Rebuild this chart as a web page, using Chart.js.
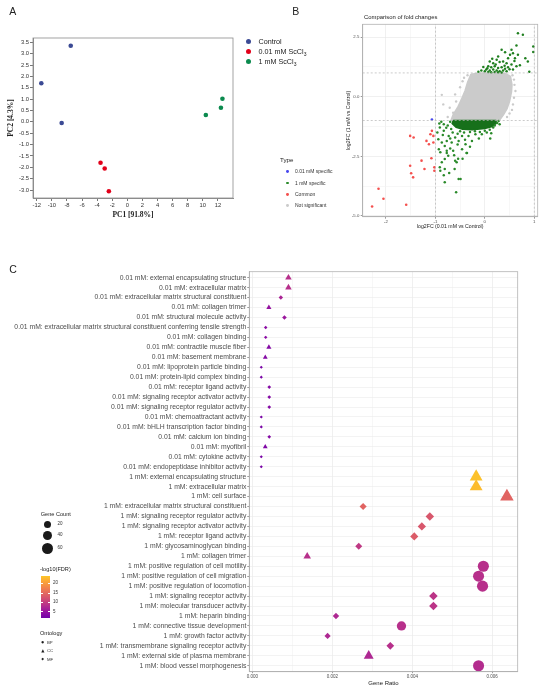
<!DOCTYPE html>
<html>
<head>
<meta charset="utf-8">
<script src="https://cdn.jsdelivr.net/npm/chart.js@4.4.0/dist/chart.umd.min.js"></script>
<style>
body { margin: 0; background: #fff; font-family: "Liberation Sans", Arial, sans-serif; }
#page { position: relative; width: 550px; height: 691px; overflow: hidden; background: #fff; }
canvas, .t, .dot, .bar { position: absolute; }
.t { white-space: nowrap; line-height: 1; color: #222; }
.dot { border-radius: 50%; }
</style>
</head>
<body>
<div id="page">
  <canvas id="pca" width="240" height="230" style="left:0;top:0;width:240px;height:230px"></canvas>
  <canvas id="fc" width="310" height="230" style="left:240px;top:0;width:310px;height:230px"></canvas>
  <canvas id="go" width="550" height="441" style="left:0;top:250px;width:550px;height:441px"></canvas>
</div>
<script>
// ---- panel A: PCA ----
const pcaControlX = [-7.5, -11.4, -8.7];
const pcaControlY = [3.35, 1.70, -0.05];
const pcaLowX = [-3.55, -3.0, -2.45];
const pcaLowY = [-1.80, -2.05, -3.05];
const pcaHighX = [10.4, 12.4, 12.6];
const pcaHighY = [0.30, 0.62, 1.02];
const pcaXTicks = [-12, -10, -8, -6, -4, -2, 0, 2, 4, 6, 8, 10, 12];
const pcaYTicks = [-3, -2.5, -2, -1.5, -1, -0.5, 0, 0.5, 1, 1.5, 2, 2.5, 3, 3.5];

// ---- panel B: fold change comparison ----
const fcXMajor = [-2, -1, 0, 1];
const fcXMinor = [-1.5, -0.5, 0.5];
const fcYMajor = [-5, -2.5, 0, 2.5];
const fcYMinor = [-3.75, -1.25, 1.25];
const fcCutoffs = [-1, 1];
// dense core of the not-significant cloud (outline)
const notSigCore = [[-0.28,0.95],[-0.1,1.0],[0.2,1.0],[0.42,0.98],[0.52,0.85],[0.55,0.5],[0.54,0.2],[0.5,-0.2],
  [0.45,-0.5],[0.38,-0.75],[0.3,-0.97],[0.0,-1.0],[-0.4,-1.0],[-0.68,-0.97],[-0.64,-0.75],[-0.55,-0.45],
  [-0.47,-0.1],[-0.4,0.25],[-0.35,0.6],[-0.3,0.85],[-0.28,0.95]];
const notSigPoints = [[-0.87,0.08],[-0.84,-0.32],[-0.71,-0.46],[-0.64,-0.67],[0.59,0.72],[0.62,0.24],[0.59,-0.04],
  [0.57,-0.32],[-0.5,0.4],[-0.45,0.65],[-0.35,0.9],[0.6,0.5],[0.55,-0.55],[-0.75,-0.85],[-0.6,0.1],[0.56,0.9],
  [-0.58,-0.2],[0.5,-0.7],[-0.42,0.8],[0.45,-0.85]];
// dense core of the 1 mM specific band just below -1
const highBandCore = [[-0.64,-1.0],[0.22,-1.0],[0.24,-1.1],[0.15,-1.25],[0.0,-1.33],[-0.25,-1.38],[-0.45,-1.36],
  [-0.58,-1.28],[-0.66,-1.12],[-0.64,-1.0]];
const highUp = [[0.67,2.66],[0.77,2.60],[0.64,2.15],[0.98,2.11],[0.98,1.88],[0.87,1.48],[0.34,1.97],[0.41,1.87],
  [0.51,1.76],[0.57,1.83],[0.61,1.62],[0.47,1.62],[0.27,1.69],[0.24,1.55],[0.30,1.46],[0.37,1.48],[0.44,1.41],
  [0.54,1.35],[0.64,1.28],[0.71,1.32],[0.10,1.48],[0.17,1.41],[0.07,1.28],[0.13,1.24],[0.20,1.28],[0.27,1.21],
  [0.34,1.24],[0.41,1.18],[0.47,1.24],[0.57,1.14],[0.03,1.14],[0.10,1.10],[0.17,1.14],[0.24,1.10],[0.30,1.07],
  [0.37,1.10],[0.44,1.07],[0.00,1.07],[0.20,1.04],[0.27,1.03],[0.34,1.02],[0.13,1.03],[0.07,1.04],[-0.07,1.10],
  [-0.13,1.05],[0.54,1.97],[0.67,1.76],[0.82,1.62],[0.60,1.50],[0.50,1.15],[0.22,1.35],[0.05,1.20],[-0.03,1.25],
  [0.15,1.60],[0.40,1.30],[0.90,1.05]];
const highDown = [[-0.87,-1.92],[-0.81,-2.06],[-0.90,-2.33],[-0.87,-2.75],[-0.90,-3.10],[-0.81,-3.03],[-0.72,-3.20],
  [-0.81,-3.58],[-0.60,-2.68],[-0.57,-2.75],[-0.61,-3.03],[-0.53,-3.45],[-0.49,-3.45],[-0.58,-4.00],[-0.36,-2.36],
  [-0.70,-2.17],[-0.64,-2.26],[-0.77,-2.26],[-0.93,-2.20],[-0.94,-1.78],[-0.74,-2.47],[-0.81,-2.61],[-0.46,-2.20],
  [-0.39,-1.99],[-0.26,-1.85],[-0.12,-1.75],[0.11,-1.75],[-0.67,-1.92],[-0.53,-1.85],[-0.96,-1.50],[-0.91,-1.29],
  [-0.83,-1.43],[-0.73,-1.64],[-0.77,-1.85],[-0.60,-1.71],[-0.46,-1.64],[-0.33,-1.64],[-0.19,-1.57],[-0.06,-1.57],
  [0.04,-1.50],[0.17,-1.29],[-0.83,-1.15],[-0.70,-1.05],[-0.75,-1.20],[-0.68,-1.35],[-0.65,-1.50],[-0.55,-1.55],
  [-0.50,-1.45],[-0.42,-1.50],[-0.30,-1.48],[-0.20,-1.45],[-0.10,-1.48],[0.00,-1.42],[0.10,-1.38],[0.20,-1.20],
  [0.25,-1.10],[0.28,-1.02],[0.30,-1.15],[-0.88,-1.05],[-0.92,-1.12],[-0.78,-1.30],[-0.85,-1.60],[-0.70,-1.75],
  [-0.40,-1.80],[-0.55,-2.00],[-0.62,-2.45],[-0.45,-2.60],[-0.30,-2.10],[0.13,-1.53],[-0.77,-2.36],[-0.37,-2.36],
  [-0.54,-2.60],[-0.91,-2.96],[-0.83,-3.29]];
const commonSig = [[-1.51,-1.64],[-1.44,-1.71],[-1.07,-1.43],[-1.10,-1.57],[-1.04,-1.64],[-1.18,-1.85],[-1.13,-1.99],
  [-1.04,-1.92],[-1.28,-2.68],[-1.08,-2.58],[-1.51,-2.89],[-1.22,-3.03],[-1.02,-2.96],[-1.02,-3.10],[-1.49,-3.21],
  [-1.45,-3.38],[-2.15,-3.86],[-2.05,-4.28],[-2.28,-4.60],[-1.59,-4.53]];
const lowSpecific = [[-1.07,-0.95]];

// ---- panel C: GO enrichment ----
const goTerms = [
  "0.01 mM: external encapsulating structure",
  "0.01 mM: extracellular matrix",
  "0.01 mM: extracellular matrix structural constituent",
  "0.01 mM: collagen trimer",
  "0.01 mM: structural molecule activity",
  "0.01 mM: extracellular matrix structural constituent conferring tensile strength",
  "0.01 mM: collagen binding",
  "0.01 mM: contractile muscle fiber",
  "0.01 mM: basement membrane",
  "0.01 mM: lipoprotein particle binding",
  "0.01 mM: protein-lipid complex binding",
  "0.01 mM: receptor ligand activity",
  "0.01 mM: signaling receptor activator activity",
  "0.01 mM: signaling receptor regulator activity",
  "0.01 mM: chemoattractant activity",
  "0.01 mM: bHLH transcription factor binding",
  "0.01 mM: calcium ion binding",
  "0.01 mM: myofibril",
  "0.01 mM: cytokine activity",
  "0.01 mM: endopeptidase inhibitor activity",
  "1 mM: external encapsulating structure",
  "1 mM: extracellular matrix",
  "1 mM: cell surface",
  "1 mM: extracellular matrix structural constituent",
  "1 mM: signaling receptor regulator activity",
  "1 mM: signaling receptor activator activity",
  "1 mM: receptor ligand activity",
  "1 mM: glycosaminoglycan binding",
  "1 mM: collagen trimer",
  "1 mM: positive regulation of cell motility",
  "1 mM: positive regulation of cell migration",
  "1 mM: positive regulation of locomotion",
  "1 mM: signaling receptor activity",
  "1 mM: molecular transducer activity",
  "1 mM: heparin binding",
  "1 mM: connective tissue development",
  "1 mM: growth factor activity",
  "1 mM: transmembrane signaling receptor activity",
  "1 mM: external side of plasma membrane",
  "1 mM: blood vessel morphogenesis"
];
const geneRatio = [0.00090, 0.00090, 0.00071, 0.00041, 0.00080, 0.00033, 0.00033, 0.00041, 0.00032, 0.00022,
  0.00022, 0.00042, 0.00042, 0.00042, 0.00022, 0.00022, 0.00042, 0.00032, 0.00022, 0.00022,
  0.00560, 0.00560, 0.00637, 0.00277, 0.00444, 0.00424, 0.00405, 0.00266, 0.00137, 0.00578,
  0.00566, 0.00576, 0.00453, 0.00453, 0.00209, 0.00373, 0.00188, 0.00345, 0.00291, 0.00566];
const geneCount = [9, 9, 7, 4, 8, 3, 3, 4, 3, 2, 2, 4, 4, 4, 2, 2, 4, 3, 2, 2,
  56, 56, 64, 28, 44, 42, 40, 27, 14, 58, 57, 58, 45, 45, 21, 37, 19, 35, 29, 57];
const negLogFdr = [8.5, 8.5, 7, 5, 5.5, 4, 4, 3.5, 3.5, 2.5, 2.5, 3.5, 3.5, 3.5, 2.5, 2.5, 3.5, 3, 2.5, 2.5,
  23.5, 23, 14.5, 14.5, 13, 13, 13.5, 9.5, 8.5, 8.5, 8.5, 8.5, 9, 9, 7.5, 8.5, 7.5, 8.5, 7.5, 8];
const ontology = ['CC','CC','MF','CC','MF','MF','MF','CC','CC','MF','MF','MF','MF','MF','MF','MF','MF','CC','MF','MF',
  'CC','CC','CC','MF','MF','MF','MF','MF','CC','BP','BP','BP','MF','MF','MF','BP','MF','MF','CC','BP'];
const goXMajor = [0, 0.002, 0.004, 0.006];
const goXMinor = [0.001, 0.003, 0.005];
const countLegend = [20, 40, 60];
const fdrLegend = [5, 10, 15, 20];
const fdrLow = 1.7, fdrHigh = 23.9;

// ---------------------------------------------------------------
Chart.defaults.font.family = '"Liberation Sans", Arial, sans-serif';
Chart.defaults.animation = false;
Chart.defaults.plugins.legend.display = false;
Chart.defaults.plugins.tooltip.enabled = false;

// box round the plot area
const frame = {
  id: 'frame',
  afterDatasetsDraw(chart, args, opts) {
    const a = chart.chartArea, ctx = chart.ctx;
    ctx.save();
    ctx.strokeStyle = opts.color;
    ctx.lineWidth = opts.width;
    ctx.strokeRect(a.left, a.top, a.right - a.left, a.bottom - a.top);
    ctx.restore();
  }
};

function xy(xs, ys) { return xs.map((x, i) => ({x: x, y: ys[i]})); }
function pairs(list) { return list.map(p => ({x: p[0], y: p[1]})); }
function setTicks(list) { return s => { s.ticks = list.map(v => ({value: v})); }; }

// plasma-like palette used for -log10(FDR)
const plasma = [[0.2,'#6a00a8'],[0.3,'#8f0da4'],[0.4,'#b12a90'],[0.5,'#cc4778'],[0.6,'#e16462'],
  [0.7,'#f2844b'],[0.8,'#fca636'],[0.9,'#fcce25']];
function hexRgb(h) { return [1, 3, 5].map(i => parseInt(h.substr(i, 2), 16)); }
function fdrColor(v) {
  let t = Math.max(0, Math.min(1, (v - fdrLow) / (fdrHigh - fdrLow)));
  let p = 0.22 + 0.66 * t;
  for (let i = 0; i < plasma.length - 1; i++) {
    if (p <= plasma[i + 1][0]) {
      const f = (p - plasma[i][0]) / (plasma[i + 1][0] - plasma[i][0]);
      const a = hexRgb(plasma[i][1]), b = hexRgb(plasma[i + 1][1]);
      return 'rgb(' + a.map((c, k) => Math.round(c + (b[k] - c) * f)).join(',') + ')';
    }
  }
  return plasma[plasma.length - 1][1];
}
const shapeOf = {BP: 'circle', CC: 'triangle', MF: 'rectRot'};
const shapeScale = {BP: 1, CC: 1.35, MF: 0.85};
function countRadius(n) { return 1 + 0.6 * Math.sqrt(n); }

// ---- A ----
new Chart(document.getElementById('pca'), {
  type: 'scatter',
  data: {
    datasets: [
      {data: xy(pcaControlX, pcaControlY), backgroundColor: '#3b4a94'},
      {data: xy(pcaLowX, pcaLowY), backgroundColor: '#e2001a'},
      {data: xy(pcaHighX, pcaHighY), backgroundColor: '#0b8a4e'}
    ]
  },
  options: {
    responsive: false,
    layout: {padding: {left: 0, right: 7, top: 38, bottom: 0}, autoPadding: false},
    elements: {point: {radius: 2.3, borderWidth: 0}},
    scales: {
      x: {
        min: -12.5, max: 14,
        afterBuildTicks: setTicks(pcaXTicks),
        afterFit: s => { s.height = 32; },
        ticks: {font: {size: 5.8}, color: '#333', padding: 1, maxRotation: 0, autoSkip: false},
        grid: {drawOnChartArea: false, tickLength: 3, color: '#777'},
        border: {color: '#8c8c8c'},
        title: {display: true, text: 'PC1 [91.8%]', color: '#222', padding: {top: 0, bottom: 10.5},
          font: {family: '"Liberation Serif", serif', size: 7.5, weight: 'bold'}}
      },
      y: {
        min: -3.35, max: 3.69,
        afterBuildTicks: setTicks(pcaYTicks),
        afterFit: s => { s.width = 33; },
        ticks: {font: {size: 5.8}, color: '#333', padding: 1, autoSkip: false, callback: v => v.toFixed(1)},
        grid: {drawOnChartArea: false, tickLength: 3, color: '#777'},
        border: {color: '#8c8c8c'},
        title: {display: true, text: 'PC2 [4.3%]', color: '#222', padding: {top: 6.5, bottom: 0},
          font: {family: '"Liberation Serif", serif', size: 7.5, weight: 'bold'}}
      }
    },
    plugins: {frame: {color: '#8c8c8c', width: 0.8}}
  },
  plugins: [frame]
});

// ---- B ----
const fcXTicks = fcXMajor.concat(fcXMinor).sort((a, b) => a - b);
const fcYTicks = fcYMajor.concat(fcYMinor).sort((a, b) => a - b);
const xMin = -2.47, xMax = 1.07, yMin = -5.03, yMax = 3.04;
const cutoffLines = [];
fcCutoffs.forEach(c => {
  cutoffLines.push([{x: c, y: yMin}, {x: c, y: yMax}]);
  cutoffLines.push([{x: xMin, y: c}, {x: xMax, y: c}]);
});
new Chart(document.getElementById('fc'), {
  type: 'scatter',
  data: {
    datasets: [
      {type: 'line', data: pairs(notSigCore), fill: 'shape', backgroundColor: '#cbcbcb', borderColor: '#cbcbcb',
        borderWidth: 1.5, pointRadius: 0, tension: 0, order: 10},
      {data: pairs(notSigPoints), backgroundColor: '#cbcbcb', pointRadius: 1.2, order: 9},
      {type: 'line', data: pairs(highBandCore), fill: 'shape', backgroundColor: '#17701b', borderColor: '#17701b',
        borderWidth: 1.5, pointRadius: 0, tension: 0, order: 8},
      {data: pairs(highUp), backgroundColor: '#1f7f1f', pointRadius: 1.25, order: 7},
      {data: pairs(highDown), backgroundColor: '#2a8a2a', pointRadius: 1.25, order: 7},
      {data: pairs(commonSig), backgroundColor: '#f4504e', pointRadius: 1.3, order: 6},
      {data: pairs(lowSpecific), backgroundColor: '#4747ee', pointRadius: 1.3, order: 5}
    ].concat(cutoffLines.map(d => ({type: 'line', data: d, borderColor: '#b5b5b5', borderWidth: 0.7,
      borderDash: [2, 2], pointRadius: 0, fill: false, order: 1})))
  },
  options: {
    responsive: false,
    layout: {padding: {left: 100, right: 12.3, top: 24.3, bottom: 0}, autoPadding: false},
    elements: {point: {borderWidth: 0}},
    scales: {
      x: {
        min: xMin, max: xMax,
        afterBuildTicks: setTicks(fcXTicks),
        afterFit: s => { s.height = 13.3; },
        ticks: {font: {size: 4.3}, color: '#4d4d4d', padding: 0.5, maxRotation: 0, autoSkip: false,
          callback: v => fcXMajor.includes(v) ? String(v) : ''},
        grid: {color: c => fcXMajor.includes(c.tick.value) ? '#e6e6e6' : '#f1f1f1', lineWidth: 0.6,
          tickLength: 2, tickColor: c => fcXMajor.includes(c.tick.value) ? '#555' : 'rgba(0,0,0,0)'},
        border: {color: '#b3b3b3'},
        title: {display: true, text: 'log2FC (0.01 mM vs Control)', color: '#222', padding: 0, font: {size: 5.2}}
      },
      y: {
        min: yMin, max: yMax,
        afterBuildTicks: setTicks(fcYTicks),
        afterFit: s => { s.width = 22.7; },
        ticks: {font: {size: 4.3}, color: '#4d4d4d', padding: 1.4, autoSkip: false,
          callback: v => fcYMajor.includes(v) ? v.toFixed(1) : ''},
        grid: {color: c => fcYMajor.includes(c.tick.value) ? '#e6e6e6' : '#f1f1f1', lineWidth: 0.6,
          tickLength: 2, tickColor: c => fcYMajor.includes(c.tick.value) ? '#555' : 'rgba(0,0,0,0)'},
        border: {color: '#b3b3b3'},
        title: {display: true, text: 'log2FC (1 mM vs Control)', color: '#222', padding: {top: 5.9, bottom: 0},
          font: {size: 5.2}}
      }
    },
    plugins: {frame: {color: '#b3b3b3', width: 0.8}}
  },
  plugins: [frame]
});

// ---- C ----
const goXTicks = goXMajor.concat(goXMinor).sort((a, b) => a - b);
const goIdx = goTerms.map((_, i) => i);
new Chart(document.getElementById('go'), {
  type: 'scatter',
  data: {
    datasets: [{
      data: goIdx.map(i => ({x: geneRatio[i], y: i})),
      backgroundColor: goIdx.map(i => fdrColor(negLogFdr[i])),
      pointStyle: goIdx.map(i => shapeOf[ontology[i]]),
      pointRadius: goIdx.map(i => countRadius(geneCount[i]) * shapeScale[ontology[i]]),
      borderWidth: 0
    }]
  },
  options: {
    responsive: false,
    layout: {padding: {left: 0, right: 32.3, top: 21.7, bottom: 0}, autoPadding: false},
    scales: {
      x: {
        min: -0.00008, max: 0.00664,
        afterBuildTicks: setTicks(goXTicks),
        afterFit: s => { s.height = 19.3; },
        ticks: {font: {size: 4.5}, color: '#4d4d4d', padding: 0.8, maxRotation: 0, autoSkip: false,
          callback: v => goXMajor.includes(v) ? v.toFixed(3) : ''},
        grid: {color: c => goXMajor.includes(c.tick.value) ? '#e6e6e6' : '#f1f1f1', lineWidth: 0.6,
          tickLength: 1.5, tickColor: c => goXMajor.includes(c.tick.value) ? '#555' : 'rgba(0,0,0,0)'},
        border: {color: '#b3b3b3'},
        title: {display: true, text: 'Gene Ratio', color: '#222', padding: {top: 0, bottom: 4.4}, font: {size: 6}}
      },
      y: {
        min: -0.6, max: 39.6, reverse: true,
        afterBuildTicks: setTicks(goIdx),
        afterFit: s => { s.width = 249.3; },
        ticks: {font: {size: 6.8}, color: '#4d4d4d', padding: 1, autoSkip: false, callback: v => goTerms[v]},
        grid: {color: '#ebebeb', lineWidth: 0.6, tickLength: 2, tickColor: '#555'},
        border: {color: '#b3b3b3'}
      }
    },
    plugins: {frame: {color: '#b3b3b3', width: 0.8}}
  },
  plugins: [frame]
});

// ---- text, legends ----
const page = document.getElementById('page');
function text(html, x, cy, size, extra) {
  const d = document.createElement('div');
  d.className = 't';
  d.innerHTML = html;
  d.style.left = x + 'px';
  d.style.top = (cy - size / 2) + 'px';
  d.style.fontSize = size + 'px';
  if (extra) Object.assign(d.style, extra);
  page.appendChild(d);
  return d;
}
function dot(cx, cy, r, color) {
  const d = document.createElement('div');
  d.className = 'dot';
  Object.assign(d.style, {left: (cx - r) + 'px', top: (cy - r) + 'px', width: 2 * r + 'px', height: 2 * r + 'px',
    background: color});
  page.appendChild(d);
}

text('A', 9.3, 11.7, 10.5);
text('B', 292.3, 11.7, 10.5);
text('C', 9.3, 269.3, 10.5);

// A legend
[['Control', '#3b4a94'], ['0.01 mM ScCl<sub style="font-size:70%">3</sub>', '#e2001a'],
 ['1 mM ScCl<sub style="font-size:70%">3</sub>', '#0b8a4e']].forEach((g, i) => {
  const cy = 41.7 + i * 9.8;
  dot(248.3, cy, 2.6, g[1]);
  text(g[0], 258.5, cy, 7.2);
});

// B title and legend
text('Comparison of fold changes', 364, 18, 5.9);
text('Type', 280, 160, 6.2);
[['0.01 mM specific', '#4747ee'], ['1 mM specific', '#2a8a2a'], ['Common', '#f4504e'],
 ['Not significant', '#cbcbcb']].forEach((g, i) => {
  const cy = 171.7 + i * 11.35;
  dot(287.7, cy, 1.4, g[1]);
  text(g[0], 295, cy, 5.0, {color: '#333'});
});

// C legends
text('Gene Count', 40.7, 514.3, 5.6);
countLegend.forEach((n, i) => {
  const cy = [524.3, 535.7, 548.3][i];
  dot(47.7, cy, countRadius(n), '#1a1a1a');
  text(String(n), 57.5, cy, 4.5, {color: '#333'});
});
text('-log10(FDR)', 40, 570, 5.6);
const bar = document.createElement('div');
bar.className = 'bar';
const stops = [];
for (let k = 0; k <= 10; k++) {
  const v = fdrLow + (fdrHigh - fdrLow) * k / 10;
  stops.push(fdrColor(v) + ' ' + (k * 10) + '%');
}
Object.assign(bar.style, {left: '41px', top: '576px', width: '9px', height: '42px',
  background: 'linear-gradient(to top,' + stops.join(',') + ')'});
page.appendChild(bar);
fdrLegend.forEach(v => {
  const cy = 618 - (v - fdrLow) / (fdrHigh - fdrLow) * 42;
  text(String(v), 53, cy, 4.5, {color: '#333'});
  ['41px', '48px'].forEach(l => {
    const tk = document.createElement('div');
    Object.assign(tk.style, {position: 'absolute', left: l, top: (cy - 0.3) + 'px', width: '2px', height: '0.6px',
      background: '#fff'});
    page.appendChild(tk);
  });
});
text('Ontology', 40, 634, 5.6);
[['BP', '●', 3.2], ['CC', '▲', 4.2], ['MF', '◆', 3.6]].forEach((g, i) => {
  const cy = 642.7 + i * 8.65;
  text(g[1], 41.3, cy, g[2], {fontFamily: '"DejaVu Sans", sans-serif', color: '#1a1a1a'});
  text(g[0], 47, cy, 4.3, {color: '#333'});
});
</script>
</body>
</html>
